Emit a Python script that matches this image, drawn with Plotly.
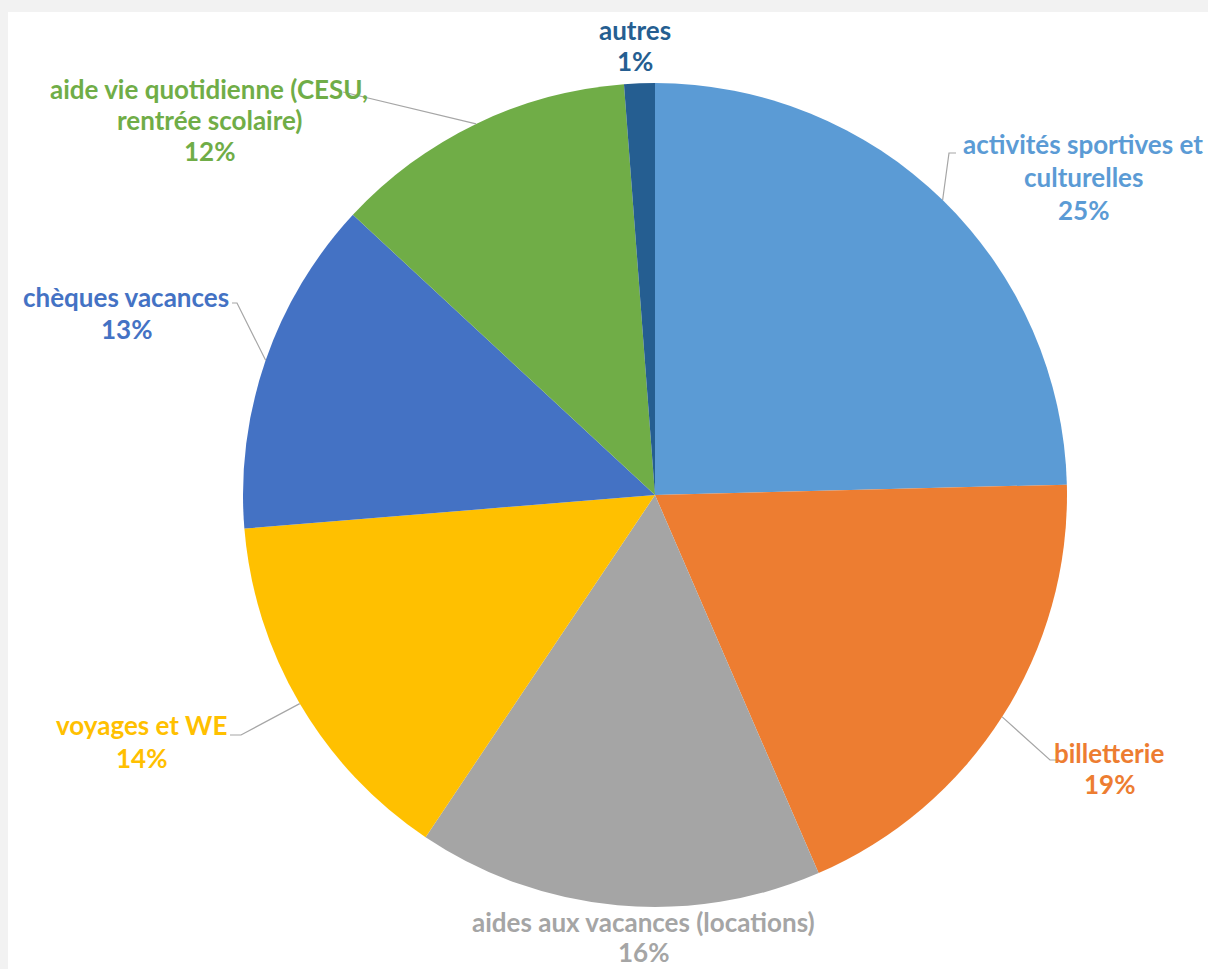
import math
import plotly.graph_objects as go

categories = [
    "activités sportives et<br>culturelles",
    "billetterie",
    "aides aux vacances (locations)",
    "voyages et WE",
    "chèques vacances",
    "aide vie quotidienne (CESU,<br>rentrée scolaire)",
    "autres",
]
values = [24.6, 18.9, 15.9, 14.3, 13.2, 11.9, 1.2]
colors = ["#5B9BD5", "#ED7D31", "#A5A5A5", "#FFC000", "#4472C4", "#70AD47", "#255E91"]

W, H = 1208, 969
CX, CY, R = 655, 495, 412  # pie centre / radius in pixels

# label layout (pixel positions: centre x, first-line centre y, line spacing)
label_pos = [(1083, 144, 33), (1109, 753, 31), (644, 922, 30), (141, 725, 33),
             (126, 297, 32), (209, 89, 31), (635, 30, 31)]
# leader-line elbow points (pixels) ; None = no leader line
elbows = [
    [(949, 153), (956, 153)],
    [(1050, 760), (1056, 760)],
    None,
    [(241, 735), (230, 735)],
    [(237, 303), (232, 303)],
    [(343, 92)],
    None,
]
FONT = "Lato"
FS = 26

fig = go.Figure()
fig.add_trace(go.Pie(
    labels=[c.replace("<br>", " ") for c in categories],
    values=values,
    sort=False,
    direction="clockwise",
    rotation=0,
    marker=dict(colors=colors, line=dict(width=0)),
    textinfo="none",
    hoverinfo="label+percent",
    showlegend=False,
    domain=dict(x=[(CX - R) / W, (CX + R) / W], y=[1 - (CY + R) / H, 1 - (CY - R) / H]),
))

def px(x, y):
    return x / W, 1 - y / H

annotations = []
shapes = [dict(type="rect", xref="paper", yref="paper", x0=8 / W, x1=1.0, y0=0, y1=1 - 12 / H,
               fillcolor="white", line=dict(width=0), layer="below")]
total = sum(values)
cum = 0.0
for cat, v, col, (lx, ly, lh), elb in zip(categories, values, colors, label_pos, elbows):
    mid = (cum + v / 2) / total
    cum += v
    ang = 2 * math.pi * mid
    ax, ay = CX + R * math.sin(ang), CY - R * math.cos(ang)
    pct = f"{round(v / total * 100)}%"
    lines = cat.split("<br>") + [pct]
    for i, t in enumerate(lines):
        x, y = px(lx, ly + i * lh)
        annotations.append(dict(x=x, y=y, xref="paper", yref="paper", text=f"<b>{t}</b>",
                                showarrow=False, xanchor="center", yanchor="middle",
                                font=dict(family=FONT, size=FS, color=col)))
    if elb:
        pts = [(ax, ay)] + elb
        path = "M " + " L ".join(f"{px(a, b)[0]},{px(a, b)[1]}" for a, b in pts)
        shapes.append(dict(type="path", xref="paper", yref="paper", path=path,
                           line=dict(color="#A6A6A6", width=1.2)))

fig.update_layout(
    width=W, height=H,
    margin=dict(l=0, r=0, t=0, b=0),
    paper_bgcolor="#F2F2F2",
    plot_bgcolor="white",
    annotations=annotations,
    shapes=shapes,
)
fig.write_html(
    "out.html",
    config={"displayModeBar": False},
    post_script="document.body.style.margin='0';document.body.style.overflow='hidden';"
                "document.body.style.background='#F2F2F2';",
)
